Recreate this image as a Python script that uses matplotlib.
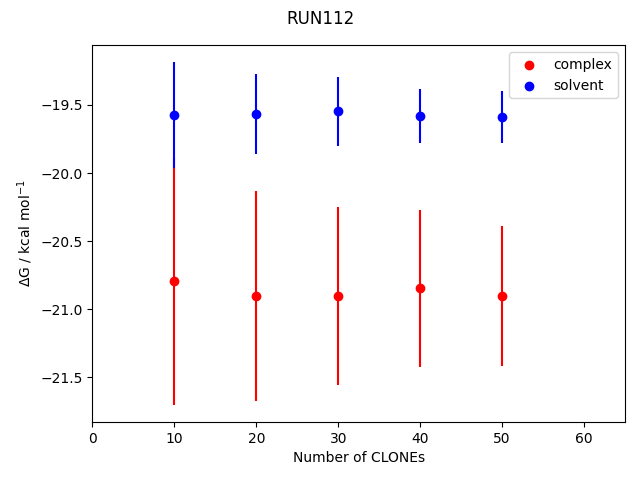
import numpy as np
from matplotlib import pyplot as plt

n_clones = [10, 20, 30, 40, 50]
complex_dg = [-20.794, -20.904, -20.904, -20.846, -20.904]
complex_err = [0.907, 0.771, 0.655, 0.574, 0.515]
solvent_dg = [-19.576, -19.568, -19.546, -19.583, -19.591]
solvent_err = [0.389, 0.293, 0.253, 0.197, 0.190]

fig, ax = plt.subplots(figsize=(6.4, 4.8), dpi=100)

ax.scatter(n_clones, complex_dg, c='red', label='complex')
ax.errorbar(n_clones, complex_dg, yerr=complex_err, fmt='none', ecolor='red')
ax.scatter(n_clones, solvent_dg, c='blue', label='solvent')
ax.errorbar(n_clones, solvent_dg, yerr=solvent_err, fmt='none', ecolor='blue')

ax.set_xlim(0, 65)
ax.set_xlabel('Number of CLONEs')
ax.set_ylabel(r'$\Delta$G / kcal mol$^{-1}$')
ax.legend()

fig.suptitle('RUN112')
fig.subplots_adjust(left=0.1445, right=0.9765, top=0.906, bottom=0.121)
plt.savefig('out.png')
